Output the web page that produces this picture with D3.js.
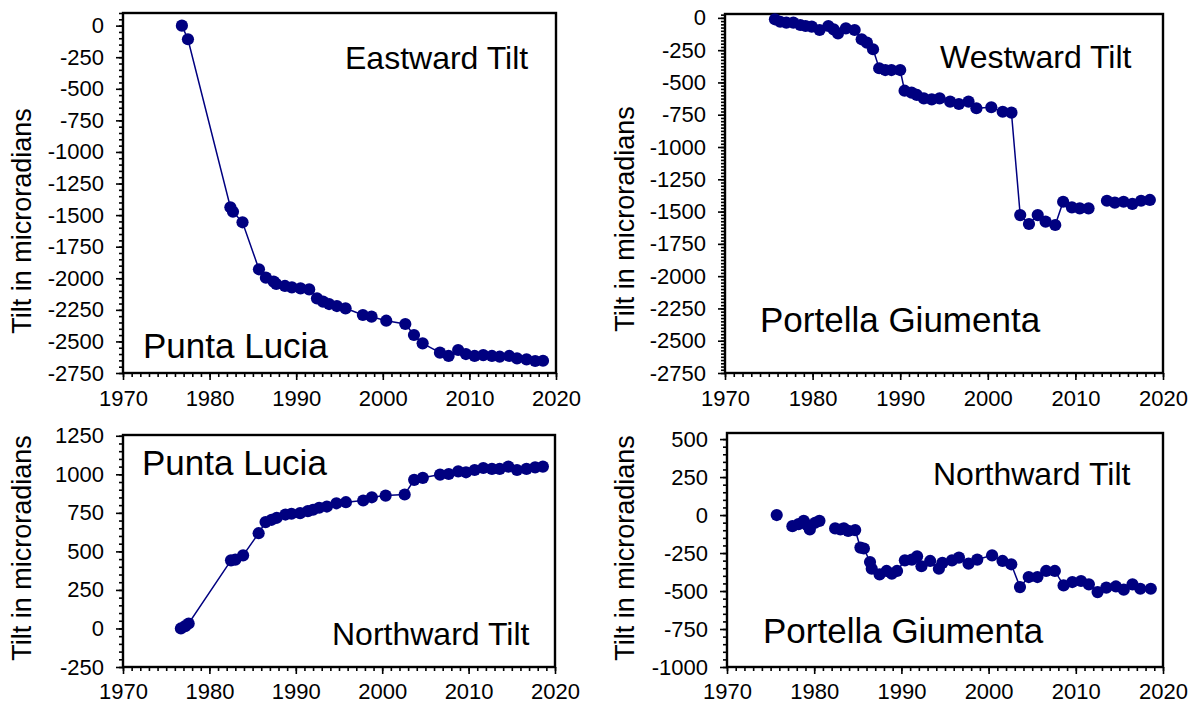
<!DOCTYPE html>
<html><head><meta charset="utf-8">
<script src="https://cdn.jsdelivr.net/npm/d3@7"></script>
<style>
body{margin:0;background:#fff}
text{font-family:"Liberation Sans",Arial,Helvetica,sans-serif;fill:#000}
</style>
</head><body>
<svg id="c" width="1195" height="704"></svg>
<script>
// ---------------- DATA ----------------
const xTickYears = [1970, 1980, 1990, 2000, 2010, 2020];

const ticksTilt = [0, -250, -500, -750, -1000, -1250, -1500, -1750, -2000, -2250, -2500, -2750];
const ticksPuntaNorth = [-250, 0, 250, 500, 750, 1000, 1250];
const ticksPortellaNorth = [-1000, -750, -500, -250, 0, 250, 500];

// Punta Lucia - Eastward tilt
const eastYear = [1976.8,1977.5,1982.4,1982.7,1983.8,1985.7,1986.5,1987.4,1987.7,1988.7,1989.5,1990.5,1991.5,1992.4,1993.1,1993.8,1994.7,1995.7,1997.7,1998.7,2000.4,2002.6,2003.6,2004.6,2006.6,2007.6,2008.7,2009.6,2010.6,2011.6,2012.6,2013.5,2014.6,2015.5,2016.6,2017.6,2018.5];
const eastTilt = [0,-108,-1438,-1473,-1557,-1929,-1995,-2027,-2045,-2061,-2072,-2080,-2088,-2159,-2185,-2204,-2220,-2238,-2291,-2304,-2336,-2362,-2449,-2515,-2589,-2615,-2568,-2600,-2615,-2608,-2615,-2621,-2615,-2634,-2642,-2655,-2653];

// Portella Giumenta - Westward tilt (null = gap in record)
const westYear = [1975.7,1976.3,1977.0,1977.8,1978.6,1979.2,1979.9,1980.8,1981.8,1982.4,1982.9,1983.8,1984.8,1985.6,1986.2,1986.9,1987.6,1988.3,1989.0,1990.0,1990.5,1991.3,1991.9,1992.7,1993.6,1994.5,1995.7,1996.7,1997.8,1998.7,2000.4,2001.7,2002.7,2003.7,2004.7,2005.7,2006.6,2007.7,2008.6,2009.6,2010.5,2011.5,2012.5,2013.6,2014.5,2015.5,2016.5,2017.5,2018.5];
const westTilt = [-11,-30,-37,-37,-55,-63,-68,-94,-63,-89,-120,-81,-94,-166,-192,-243,-390,-404,-404,-404,-564,-579,-597,-623,-631,-623,-649,-667,-649,-700,-692,-727,-734,-1527,-1596,-1527,-1578,-1604,-1424,-1467,-1475,-1475,null,-1416,-1431,-1424,-1441,-1416,-1410];

// Punta Lucia - Northward tilt
const plNorthYear = [1976.7,1977.2,1977.6,1982.5,1983.0,1983.9,1985.7,1986.5,1987.2,1987.8,1988.8,1989.5,1990.5,1991.4,1992.0,1992.7,1993.6,1994.7,1995.8,1997.8,1998.8,2000.4,2002.6,2003.7,2004.7,2006.7,2007.7,2008.8,2009.7,2010.7,2011.7,2012.7,2013.6,2014.6,2015.6,2016.7,2017.7,2018.6];
const plNorthTilt = [0,15,32,442,446,474,618,690,705,718,739,744,748,761,770,783,791,812,819,830,851,862,869,964,977,998,1002,1019,1013,1028,1041,1035,1035,1050,1028,1035,1045,1050];

// Portella Giumenta - Northward tilt (null = gap in record)
const pgNorthYear = [1975.7,1976.6,1977.5,1978.2,1978.8,1979.2,1979.5,1980.1,1980.6,1981.5,1982.4,1983.0,1983.4,1983.9,1984.7,1985.3,1985.7,1986.4,1986.6,1987.5,1988.3,1988.9,1989.5,1990.4,1991.2,1991.8,1992.3,1993.3,1994.3,1994.7,1995.8,1996.6,1997.7,1998.7,2000.4,2001.6,2002.6,2003.6,2004.6,2005.6,2006.6,2007.6,2008.6,2009.6,2010.6,2011.5,2012.5,2013.5,2014.6,2015.5,2016.5,2017.4,2018.6];
const pgNorthTilt = [0,null,-73,-60,-38,-66,-95,-51,-38,null,-88,-95,-88,-104,-99,-214,-220,-309,-353,-390,-368,-386,-368,-298,-293,-271,-337,-302,-353,-315,-298,-280,-320,-293,-265,-302,-324,-474,-408,-408,-368,-368,-463,-441,-434,-456,-507,-478,-470,-491,-456,-485,-485];

// ---------------- LAYOUT ----------------
const MARK = "#000080";
const panels = [
  {years: eastYear, vals: eastTilt, l:123, t:13, r:556, b:373, yDom:[-2750,100], yTicks: ticksTilt, minor:50,
   xLabTop:17, titleX:22, titleY:221,
   notes:[{s:"Eastward Tilt", x:345, y:69, f:32},{s:"Punta Lucia", x:143, y:358, f:35}]},
  {years: westYear, vals: westTilt, l:725, t:14, r:1163, b:373, yDom:[-2750,30], yTicks: ticksTilt, minor:25,
   xLabTop:17, titleX:625, titleY:219,
   notes:[{s:"Westward Tilt", x:940, y:68, f:32},{s:"Portella Giumenta", x:760, y:332, f:35}]},
  {years: plNorthYear, vals: plNorthTilt, l:123, t:435, r:555, b:667, yDom:[-250,1255], yTicks: ticksPuntaNorth, minor:50,
   xLabTop:16, titleX:22, titleY:548,
   notes:[{s:"Punta Lucia", x:142, y:475, f:35},{s:"Northward Tilt", x:332, y:645, f:32}]},
  {years: pgNorthYear, vals: pgNorthTilt, l:727, t:433, r:1163, b:667, yDom:[-1000,540], yTicks: ticksPortellaNorth, minor:50,
   xLabTop:16, titleX:625, titleY:548,
   notes:[{s:"Northward Tilt", x:933, y:485, f:32},{s:"Portella Giumenta", x:763, y:643, f:35}]}
];

const svg = d3.select("#c");

panels.forEach(p => {
  const g = svg.append("g");
  const x = d3.scaleLinear().domain([1970, 2020]).range([p.l, p.r]);
  const y = d3.scaleLinear().domain(p.yDom).range([p.b, p.t]);

  // minor x ticks
  g.append("g").attr("transform", `translate(0,${p.b})`)
    .call(d3.axisBottom(x).tickValues(d3.range(1970, 2021, 1)).tickSize(4).tickFormat(""))
    .call(a => a.select(".domain").remove());
  // major x ticks
  const xa = g.append("g").attr("transform", `translate(0,${p.b})`)
    .call(d3.axisBottom(x).tickValues(xTickYears).tickSize(7).tickFormat(d => String(d)))
    .call(a => a.select(".domain").remove());
  xa.selectAll("text").attr("y", p.xLabTop).attr("dy", "0.71em").style("font-size", "22px")
    .attr("font-family", null);

  // minor y ticks
  const yMin = Math.ceil(p.yDom[0] / p.minor) * p.minor;
  g.append("g").attr("transform", `translate(${p.l},0)`)
    .call(d3.axisLeft(y).tickValues(d3.range(yMin, p.yDom[1] + 0.1, p.minor)).tickSize(4).tickFormat(""))
    .call(a => a.select(".domain").remove());
  const ya = g.append("g").attr("transform", `translate(${p.l},0)`)
    .call(d3.axisLeft(y).tickValues(p.yTicks).tickSize(7).tickFormat(d => String(d)))
    .call(a => a.select(".domain").remove());
  ya.selectAll("text").attr("x", -19).style("font-size", "22px").attr("font-family", null);

  g.selectAll(".tick line").attr("stroke", "#000").attr("stroke-width", 1.6);

  // frame
  g.append("rect").attr("x", p.l).attr("y", p.t).attr("width", p.r - p.l).attr("height", p.b - p.t)
    .attr("fill", "none").attr("stroke", "#000").attr("stroke-width", 2.4);

  // y title
  g.append("text").attr("transform", `translate(${p.titleX},${p.titleY}) rotate(-90)`)
    .attr("text-anchor", "middle").attr("dy", "0.35em").style("font-size", "27px")
    .text("Tilt in microradians");

  // data
  const data = p.years.map((yr, i) => ({yr, v: p.vals[i]}));
  const line = d3.line().defined(d => d.v !== null).x(d => x(d.yr)).y(d => y(d.v));
  g.append("path").datum(data).attr("d", line).attr("fill", "none")
    .attr("stroke", MARK).attr("stroke-width", 1.5);
  g.selectAll("circle").data(data.filter(d => d.v !== null)).join("circle")
    .attr("cx", d => x(d.yr)).attr("cy", d => y(d.v)).attr("r", 6.1).attr("fill", MARK);

  // annotations
  p.notes.forEach(n => {
    g.append("text").attr("x", n.x).attr("y", n.y).style("font-size", n.f + "px").text(n.s);
  });
});
</script>
</body></html>
